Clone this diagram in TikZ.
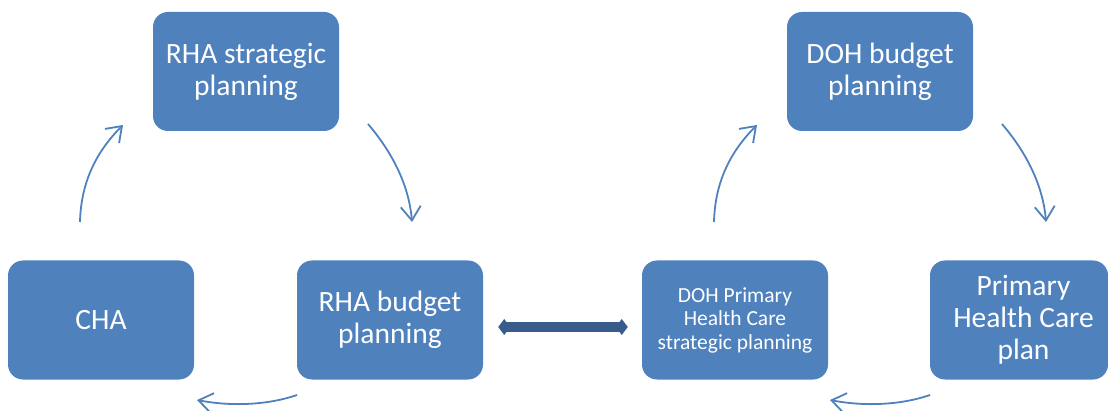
\documentclass[tikz,border=0pt]{standalone}
\usepackage{fontspec}
\setmainfont{Carlito}
\usetikzlibrary{arrows.meta}
\definecolor{boxblue}{HTML}{4F81BD}
\definecolor{darkblue}{HTML}{385D8A}
\tikzset{
  box/.style={fill=boxblue, rounded corners=15pt, minimum width=186pt, minimum height=119pt,
    inner sep=0pt, text=white, align=center, font=\fontsize{29.5}{32}\selectfont},
  smallbox/.style={box, font=\fontsize{21.5}{23.5}\selectfont},
  cyc/.style={draw=boxblue, line width=1.8pt, -{Straight Barb[length=14pt,width=20pt,line width=1.8pt]}},
  dbl/.style={draw=darkblue, line width=9.5pt, {Kite[length=12pt,width=16pt,inset=6pt]}-{Kite[length=12pt,width=16pt,inset=6pt]}}
}
\begin{document}
\begin{tikzpicture}[x=1pt,y=-1pt]
\useasboundingbox (0,0) rectangle (1108,411);
\node[box] (rhas) at (246,71.5) {RHA strategic\\planning};
\node[box] (cha) at (101,320) {CHA};
\node[box] (rhab) at (390,320) {RHA budget\\planning};
\node[box] (dohb) at (880,71.5) {DOH budget\\planning};
\node[smallbox] (dohp) at (735,320) {DOH Primary\\Health Care\\strategic planning};
\node[box, minimum width=178pt] (phc) at (1019,320) {\hspace*{9pt}Primary\\\hspace*{9pt}Health Care\\\hspace*{9pt}plan};
% arrow endpoints
\coordinate (a1s) at (80,222); \coordinate (a1e) at (123,125);
\coordinate (a2s) at (368,124); \coordinate (a2e) at (412,222);
\coordinate (a3s) at (297,395); \coordinate (a3e) at (197,400);
\coordinate (b1s) at (714,222); \coordinate (b1e) at (757,125);
\coordinate (b2s) at (1002,124); \coordinate (b2e) at (1046,222);
\coordinate (b3s) at (930,395); \coordinate (b3e) at (830,400);
\draw[cyc] (a1s) .. controls (81,180) and (98,150) .. (a1e);
\draw[cyc] (a2s) .. controls (392,152) and (409,185) .. (a2e);
\draw[cyc] (a3s) .. controls (265,406) and (228,406) .. (a3e);
\draw[cyc] (b1s) .. controls (715,180) and (732,150) .. (b1e);
\draw[cyc] (b2s) .. controls (1026,152) and (1043,185) .. (b2e);
\draw[cyc] (b3s) .. controls (898,406) and (861,406) .. (b3e);
\draw[dbl] ([xshift=15pt,yshift=-7pt]rhab.east) -- ([xshift=-14pt,yshift=-7pt]dohp.west);
\end{tikzpicture}
\end{document}
